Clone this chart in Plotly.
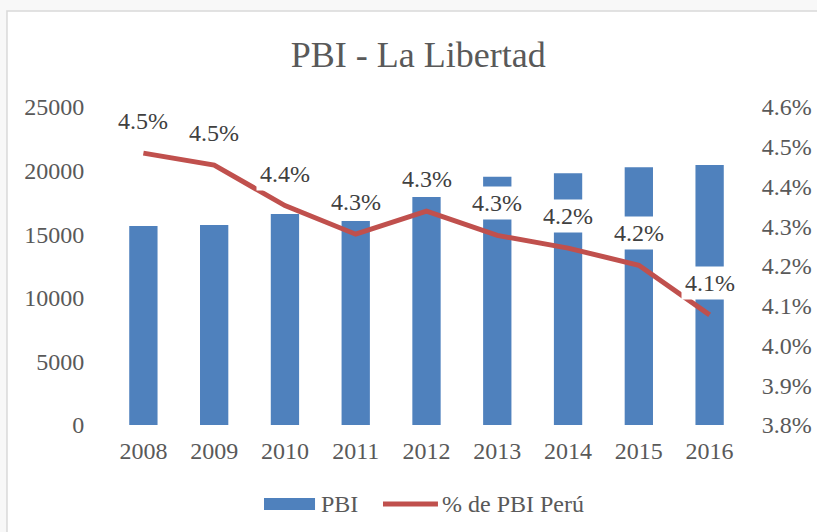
import plotly.graph_objects as go

years = [2008, 2009, 2010, 2011, 2012, 2013, 2014, 2015, 2016]
pbi = [15650, 15720, 16590, 16040, 17930, 19520, 19790, 20260, 20440]
pct_peru = [4.484, 4.454, 4.352, 4.280, 4.338, 4.277, 4.245, 4.202, 4.077]

FONT = "Liberation Serif"
GREY = "#595959"
BLUE = "#4F81BD"
RED = "#C0504D"

fig = go.Figure()
fig.add_trace(go.Bar(
    x=years, y=pbi, name="PBI", marker_color=BLUE,
    marker_line_width=0,
))
fig.add_trace(go.Scatter(
    x=years, y=pct_peru, name="% de PBI Perú", yaxis="y2",
    mode="lines", line=dict(color=RED, width=5),
))

# data labels with white fill, like Excel
for yr, v in zip(years, pct_peru):
    fig.add_annotation(
        x=yr, y=v, xref="x", yref="y2", text=f"{v:.1f}%", showarrow=False,
        yshift=32, bgcolor="white", borderpad=3,
        font=dict(size=24, color="#404040"),
    )

# chart frame
fig.add_shape(
    type="rect", xref="paper", yref="paper",
    x0=-0.1586, x1=1.13, y0=-0.36, y1=1.302,
    line=dict(color="#d9d9d9", width=1.5), fillcolor="white", layer="below",
)

# legend drawn by hand so the bar key is a wide block, as in Excel
fig.add_shape(
    type="rect", xref="paper", yref="paper",
    x0=0.2449, x1=0.325, y0=-0.2673, y1=-0.2296,
    line=dict(width=0), fillcolor=BLUE,
)
fig.add_shape(
    type="line", xref="paper", yref="paper",
    x0=0.4317, x1=0.518, y0=-0.2484, y1=-0.2484,
    line=dict(color=RED, width=5),
)
fig.add_annotation(
    text="PBI", xref="paper", yref="paper", x=0.331, y=-0.2484,
    xanchor="left", yanchor="middle", showarrow=False,
    font=dict(size=24, color=GREY),
)
fig.add_annotation(
    text="% de PBI Perú", xref="paper", yref="paper", x=0.521, y=-0.2484,
    xanchor="left", yanchor="middle", showarrow=False,
    font=dict(size=24, color=GREY),
)

fig.update_layout(
    width=817, height=532,
    margin=dict(l=108, r=72, t=107, b=107, autoexpand=False),
    paper_bgcolor="#f8f8f8",
    plot_bgcolor="rgba(0,0,0,0)",
    font=dict(family=FONT, size=24, color=GREY),
    title=dict(
        text="PBI - La Libertad", x=0.512, xanchor="center",
        y=0.897, yanchor="middle",
        font=dict(size=36, color=GREY),
    ),
    bargap=0.6,
    showlegend=False,
    xaxis=dict(
        range=[2007.5, 2016.5], dtick=1, tickformat="d",
        showgrid=False, showline=False, zeroline=False,
        ticks="outside", ticklen=4, tickcolor="rgba(0,0,0,0)",
        tickfont=dict(size=24, color=GREY),
    ),
    yaxis=dict(
        range=[0, 25000], dtick=5000, tickformat="d", showgrid=False,
        zeroline=False, showline=False,
        ticks="outside", ticklen=18, tickcolor="rgba(0,0,0,0)",
        tickfont=dict(size=24, color=GREY),
    ),
    yaxis2=dict(
        overlaying="y", side="right", range=[3.8, 4.6], dtick=0.1,
        tickformat=".1f", ticksuffix="%", showgrid=False, zeroline=False,
        showline=False, ticks="outside", ticklen=11,
        tickcolor="rgba(0,0,0,0)", tickfont=dict(size=24, color=GREY),
    ),
)

fig.write_html(
    "out.html",
    config={"displayModeBar": False},
    post_script="document.body.style.margin='0';",
)
